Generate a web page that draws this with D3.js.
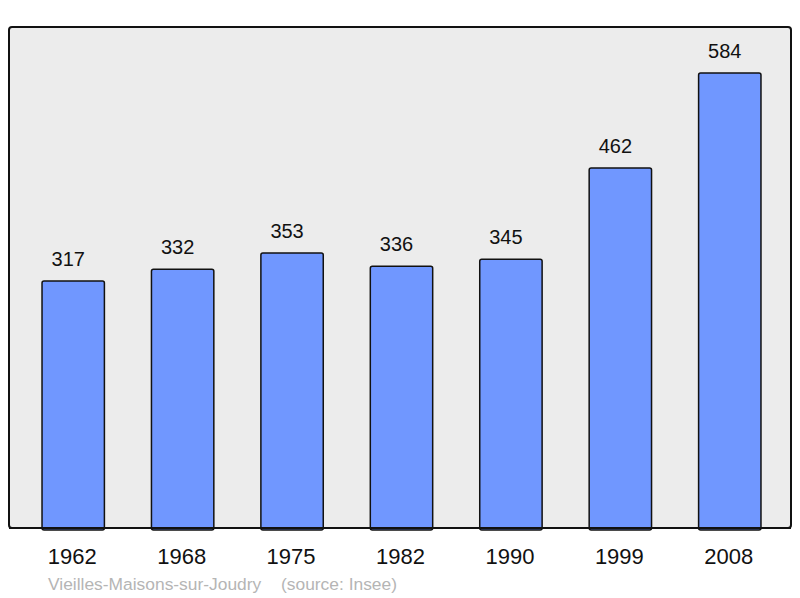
<!DOCTYPE html>
<html><head><meta charset="utf-8">
<script src="https://cdn.jsdelivr.net/npm/d3@7"></script>
<style>body{margin:0;background:#fff}svg{display:block;font-family:"Liberation Sans",Arial,sans-serif}</style>
</head><body>
<script>
const years = ["1962","1968","1975","1982","1990","1999","2008"];
const population = [317,332,353,336,345,462,584];
const title = "Vieilles-Maisons-sur-Joudry";
const source = "(source: Insee)";

const W = 800, H = 598;
const svg = d3.select("body").append("svg").attr("width", W).attr("height", H);

svg.append("rect").attr("x", 9).attr("y", 27).attr("width", 782).attr("height", 501)
  .attr("rx", 3).attr("fill", "#ececec").attr("stroke", "#111").attr("stroke-width", 2);

const x = d3.scaleBand().domain(years).range([18.5, 784.5]).paddingInner(0.43).paddingOuter(0.215);
const y = d3.scaleLinear().domain([0, 643]).range([528, 27]);

const data = years.map((yr, i) => ({yr, v: population[i]}));

svg.selectAll("rect.bar").data(data).enter().append("rect").attr("class","bar")
  .attr("x", d => x(d.yr)).attr("y", d => y(d.v))
  .attr("width", x.bandwidth()).attr("height", d => 528 - y(d.v) + 2)
  .attr("rx", 2).attr("fill", "#7097ff").attr("stroke", "#111").attr("stroke-width", 1.5);

svg.append("line").attr("x1", 9).attr("x2", 791).attr("y1", 528).attr("y2", 528)
  .attr("stroke", "#111").attr("stroke-width", 2);

svg.selectAll("text.val").data(data).enter().append("text").attr("class","val")
  .attr("x", d => x(d.yr) + x.bandwidth()/2 - 5).attr("y", d => y(d.v) - 15)
  .attr("text-anchor","middle").attr("font-size", 20).attr("fill","#111").text(d => d.v);

const xAxis = d3.axisBottom(x).tickSize(0).tickPadding(0);
const ax = svg.append("g").attr("transform","translate(0,528)").call(xAxis);
ax.select(".domain").remove();
ax.selectAll("text").attr("font-size", 22).attr("fill","#111")
  .attr("font-family","Liberation Sans, Arial, sans-serif").attr("dy", null).attr("y", 36).attr("x", -1);

svg.append("text").attr("x", 48).attr("y", 590).attr("font-size", 17.4).attr("fill","#b5b5b5")
  .text(title);
svg.append("text").attr("x", 281).attr("y", 590).attr("font-size", 17.4).attr("fill","#b5b5b5")
  .text(source);
</script>
</body></html>
